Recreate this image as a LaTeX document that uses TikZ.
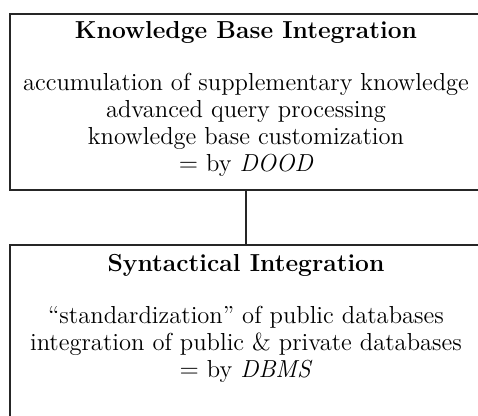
\documentclass[tikz,border=0pt]{standalone}
\usepackage{amsmath}
\usepackage{tikz}

\tikzset{
  layer/.style={draw=black!85,line width=1pt,minimum width=9.44cm,inner sep=0pt},
  ltitle/.style={font=\fontsize{14}{15.4}\selectfont\bfseries},
  ltext/.style={font=\fontsize{14}{15.4}\selectfont,align=center,inner sep=0pt}
}

\begin{document}
\begin{tikzpicture}[x=0.02cm,y=-0.02cm]
\clip (0,0) rectangle (478,416);
\fill[white] (0,0) rectangle (478,416);
% upper layer
\node[layer,minimum height=3.52cm] (kbi) at (246,102) {};
\node[ltitle] (kbititle) at (246,32) {Knowledge Base Integration};
\node[ltext] (kbitext) at (246,124.5) {accumulation of supplementary knowledge\\
advanced query processing\\
knowledge base customization\\
$=$ by \textit{DOOD}};
% lower layer
\node[layer,minimum height=3.9cm] (si) at (246,342.5) {};
\node[ltitle] (sititle) at (246,265) {Syntactical Integration};
\node[ltext] (sitext) at (246,344.5) {``standardization'' of public databases\\
integration of public \& private databases\\
$=$ by \textit{DBMS}};
\draw[line width=1pt,black!85] (kbi.south) -- (si.north);
\end{tikzpicture}
\end{document}
